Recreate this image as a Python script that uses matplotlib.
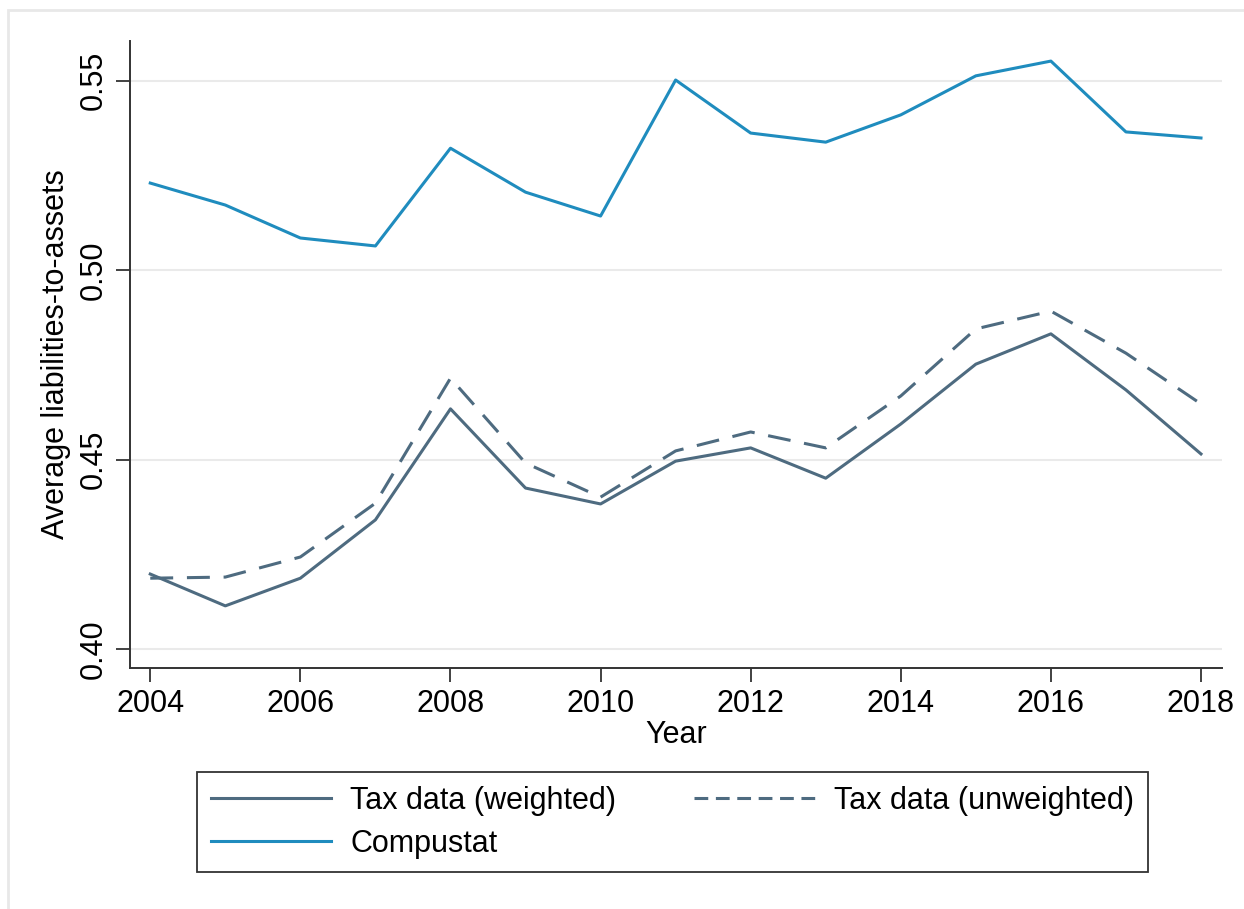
import matplotlib
matplotlib.use("Agg")
import matplotlib.pyplot as plt
from matplotlib.patches import Rectangle

years = list(range(2004, 2019))
tax_weighted = [0.4198, 0.4114, 0.4187, 0.4341, 0.4634, 0.4425, 0.4383, 0.4496,
                0.4531, 0.4451, 0.4594, 0.4752, 0.4832, 0.4684, 0.4515]
tax_unweighted = [0.4187, 0.4190, 0.4243, 0.4385, 0.4715, 0.4491, 0.4401, 0.4523,
                  0.4573, 0.4531, 0.4668, 0.4845, 0.4892, 0.4781, 0.4647]
compustat = [0.5230, 0.5172, 0.5085, 0.5064, 0.5322, 0.5206, 0.5143, 0.5502,
             0.5362, 0.5338, 0.5410, 0.5513, 0.5552, 0.5365, 0.5349]
xticks = [2004, 2006, 2008, 2010, 2012, 2014, 2016, 2018]
yticks = [0.40, 0.45, 0.50, 0.55]
ytick_labels = ["0.40", "0.45", "0.50", "0.55"]

plt.rcParams['font.family'] = ['Liberation Sans', 'DejaVu Sans']

fig = plt.figure(figsize=(12.44, 9.09), dpi=100)
fig.patches.append(Rectangle((8/1244, -0.05), 1.2, 1 - 10/909 + 0.05,
                             transform=fig.transFigure, fill=False,
                             edgecolor='#e8e8e8', linewidth=2, zorder=0))
ax = fig.add_axes([130/1244, (909-668)/909, (1222-130)/1244, (668-41)/909])

c_tax = '#4e6b80'
c_comp = '#1f8cbe'
l1, = ax.plot(years, tax_weighted, color=c_tax, lw=2.2, label='Tax data (weighted)')
l2, = ax.plot(years, tax_unweighted, color=c_tax, lw=2.2, ls=(0, (7.5, 4.5)),
              label='Tax data (unweighted)')
l3, = ax.plot(years, compustat, color=c_comp, lw=2.2, label='Compustat')

ax.set_xlim(2003.73, 2018.28)
ax.set_ylim(0.395, 0.5605)
ax.set_xticks(xticks)
ax.set_yticks(yticks)
ax.set_yticklabels(ytick_labels, rotation=90, va='center')
ax.tick_params(axis='both', labelsize=22, length=10, width=1.3, color='#333333', pad=5)
ax.grid(axis='y', color='#eaeaea', lw=1.5)
ax.set_axisbelow(True)
for s in ['top', 'right']:
    ax.spines[s].set_visible(False)
for s in ['left', 'bottom']:
    ax.spines[s].set_linewidth(1.4)
    ax.spines[s].set_color('#333333')

ax.set_xlabel('Year', fontsize=22, labelpad=1)
ax.set_ylabel('Average liabilities-to-assets', fontsize=22, labelpad=6)

l2.set_dashes((4.5, 2.5))
leg = fig.legend([l1, l3, l2], [l1.get_label(), l3.get_label(), l2.get_label()],
                 loc='upper left', bbox_to_anchor=(197/1244, 1 - 772/909), ncol=2,
                 borderaxespad=0,
                 fontsize=22, frameon=True, fancybox=False, edgecolor='black',
                 handlelength=3.95, handletextpad=0.62, columnspacing=2.55,
                 borderpad=0.45, labelspacing=0.42)
leg.get_frame().set_linewidth(1.3)
l2.set_dashes((7.5, 4.5))

fig.savefig('out.png', dpi=100, facecolor='white')
